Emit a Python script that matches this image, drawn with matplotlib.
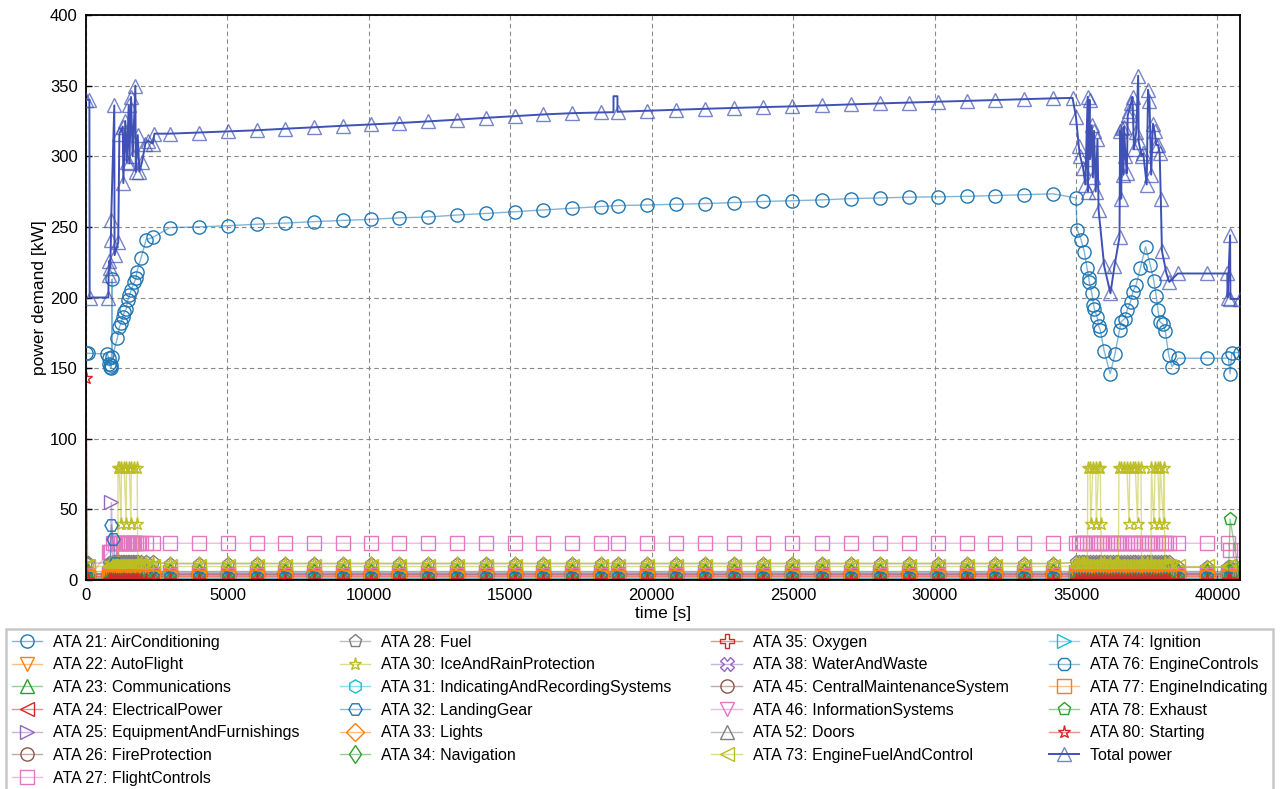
import matplotlib
matplotlib.use("Agg")
import matplotlib.pyplot as plt
from matplotlib.colors import to_rgba

plt.rcParams["font.family"] = ["Liberation Sans", "DejaVu Sans"]

# ── sample times per flight phase [s] ─────────────────────────────
ground_t = [0, 60, 800, 850, 900]
climb_t = [960, 1030, 1100, 1180, 1240, 1300, 1360, 1420, 1480, 1530, 1590,
           1650, 1710, 1770, 1830, 1950, 2120, 2360]
cruise_t = [2970, 3990, 5020, 6040, 7050, 8060, 9090, 10060, 11060, 12100,
            13130, 14140, 15160, 16170, 17200, 18200, 18820, 19830, 20860,
            21890, 22900, 23930, 24970, 26010, 27040, 28070, 29090, 30110,
            31140, 32150, 33170, 34180]
descent_t = [35000, 35100, 35200, 35300, 35400, 35500, 35600, 35700, 35800,
             35900, 36000, 36100, 36200, 36300, 36400, 36500, 36600, 36700,
             36800, 36900, 37000, 37100, 37200, 37300, 37400, 37500, 37600,
             37700, 37800, 37900, 38000, 38100, 38200, 38300]
approach_t = [38600, 39620, 40390, 40450, 40800]
phase_times = [ground_t, climb_t, cruise_t, descent_t, approach_t]

# ── total power [kW] ──────────────────────────────────────────────
total_t = [0, 120, 130, 790, 800, 830, 860, 880, 890, 1000, 1010, 1140, 1180,
           1300, 1320, 1390, 1440, 1510, 1534, 1593, 1650, 1746, 1760, 1829,
           1888, 1982, 2100, 2183, 2360, 2420,
           2970, 3990, 5020, 6040, 7050, 8060, 9090, 10060, 11060, 12100,
           13130, 14140, 15160, 16170, 17200, 18200, 18650, 18650, 18790,
           18790, 18820, 19830, 20860, 21890, 22900, 23930, 24970, 26010,
           27040, 28070, 29090, 30110, 31140, 32150, 33170, 34180, 34880,
           35000, 35100, 35150, 35250, 35330, 35415, 35420, 35480, 35500,
           35560, 35600, 35640, 35700, 35760, 35800, 36000, 36220, 36360,
           36540, 36560, 36600, 36620, 36680, 36700, 36750, 36800, 36830,
           36880, 36950, 37000, 37050, 37130, 37200, 37220, 37330, 37380,
           37500, 37550, 37600, 37660, 37720, 37780, 37840, 37900, 37960,
           38000, 38040, 38200, 38300,
           38600, 39620, 40350, 40360, 40450, 40460, 40800]
total_kw = [340, 340, 200, 200, 216, 226, 221, 241, 255, 336, 230, 239, 316,
            321, 281, 325, 296, 336, 295, 342, 300, 350, 289, 315,
            289, 296, 309, 311, 309, 316,
            316.0, 316.8, 317.6, 318.4, 319.5, 320.5, 321.6, 322.5, 323.5,
            324.7, 325.9, 327.2, 328.4, 329.6, 330.5, 331.0, 331.2, 342.5,
            342.5, 331.4, 331.5, 332.2, 332.9, 333.6, 334.2, 334.8, 335.3,
            336.0, 336.7, 337.4, 338.0, 338.6, 339.2, 339.8, 340.4, 341.0,
            341.3,
            328, 307, 300, 292, 280, 342, 275, 340, 298, 322, 285, 318, 275,
            312, 262, 222, 203, 222, 243, 318, 270, 320, 287, 321, 300, 288,
            329, 332, 338, 342, 305, 317, 357, 310, 300, 302, 280, 347, 339,
            287, 323, 318, 308, 308, 302, 270, 233, 217, 211,
            217, 217, 217, 200, 244, 199, 199]
# short pulse in cruise drawn as a line only
total_pulse = (18600, 18800)

# ── ATA 21 air conditioning [kW] ──────────────────────────────────
aircon_t = [0, 60, 760, 800, 830, 860, 880, 900, 920, 930, 1105, 1180, 1240,
            1300, 1360, 1420, 1475, 1534, 1593, 1711, 1770, 1794, 1947, 2124,
            2360] + cruise_t + [
            35000, 35040, 35180, 35300, 35390, 35450, 35470, 35560, 35620,
            35650, 35750, 35800, 35860, 36000, 36210, 36380, 36540, 36600,
            36720, 36810, 36930, 37010, 37130, 37280, 37460, 37630, 37750,
            37840, 37900, 37960, 38080, 38160, 38280, 38400,
            38610, 39620, 40390, 40450, 40510, 40800]
aircon_kw = [160.5, 160.5, 160, 157, 153, 151, 150, 152, 213, 158, 171, 179,
             182, 186, 190, 192, 198, 201.5, 205, 211, 214, 218, 228, 241,
             242.5,
             249.5, 250.0, 250.8, 251.9, 252.7, 253.7, 254.6, 255.3, 256.4,
             257.0, 258.4, 259.5, 260.7, 262.0, 263.2, 264.4, 265.1, 265.5,
             266.0, 266.5, 267.2, 268.0, 268.5, 269.1, 270.0, 270.5, 271.0,
             271.3, 271.6, 272.2, 272.8, 273.4,
             270.5, 248, 241, 232, 221, 214, 211, 203, 195, 192, 186, 180,
             177, 162, 146, 160, 177, 183, 185, 191, 197, 204, 209, 221, 236,
             223, 212, 201, 191, 183, 181, 176, 159, 151,
             157, 157, 157, 146, 161, 161]

# ── ATA 30 ice and rain protection [kW] ───────────────────────────
ice_t = ground_t + [960, 1030, 1130, 1130, 1170, 1240, 1250, 1350, 1420,
                    1430, 1530, 1590, 1600, 1700, 1810, 1820, 1830, 1950,
                    2120, 2360] + cruise_t + [
        35000, 35100, 35200, 35300, 35400, 35420, 35500, 35520, 35600, 35700,
        35720, 35800, 35860, 35880, 35900, 36000, 36200, 36400, 36500, 36520,
        36600, 36700, 36800, 36880, 36900, 37000, 37100, 37180, 37200, 37300,
        37320, 37500, 37650, 37670, 37750, 37800, 37900, 37950, 37980, 38100,
        38120, 38140, 38300] + approach_t
ice_kw = ([0.5, 0.5, 0.5, 12, 12]
          + [12, 12, 12, 79, 79, 40, 79, 79, 40, 79, 79, 40, 79, 79, 79, 40,
             12, 12, 12, 12]
          + [12] * 32
          + [12, 12, 12, 12, 12, 79, 79, 40, 79, 79, 40, 79, 79, 40, 12, 12,
             12, 12, 12, 79, 79, 79, 79, 40, 79, 79, 79, 40, 79, 79, 12, 12,
             12, 79, 40, 79, 79, 40, 79, 40, 79, 12, 12]
          + [9, 9, 9, 9, 9])

# ── remaining systems: level per phase (ground, climb, cruise, descent,
#    approach); a list gives the values point by point ────────────
systems = [
    ("ATA 21: AirConditioning", "#1f77b4", "o", None),
    ("ATA 22: AutoFlight", "#ff7f0e", "v", (0.5, 3.0, 3.0, 3.0, 3.0)),
    ("ATA 23: Communications", "#2ca02c", "^", (6.5, 6.5, 6.5, 6.5, 6.5)),
    ("ATA 24: ElectricalPower", "#d62728", "<", (2.0, 4.0, 4.0, 4.0, 4.0)),
    ("ATA 25: EquipmentAndFurnishings", "#9467bd", ">",
     ([4, 4, 4, 4, 55], 5.5, 5.5, 5.5, 5.5)),
    ("ATA 26: FireProtection", "#8c564b", "o", (0.3, 0.3, 0.3, 0.3, 0.3)),
    ("ATA 27: FlightControls", "#e377c2", "s",
     ([0.5, 0.5, 20, 20, 20], 26, 26, 26, [26, 26, 26, 21, 21])),
    ("ATA 28: Fuel", "#7f7f7f", "p", (12, 12.5, 11.5, 12.5, 9)),
    ("ATA 30: IceAndRainProtection", "#bcbd22", "*", None),
    ("ATA 31: IndicatingAndRecordingSystems", "#17becf", "h",
     (1.0, 1.0, 1.0, 1.0, 1.0)),
    ("ATA 32: LandingGear", "#1f77b4", "H",
     ([0, 0, 0, 0, 39], [29, 12] + [0] * 16, 0, 0, 0)),
    ("ATA 33: Lights", "#ff7f0e", "D", (4.5, 4.5, 4.0, 4.5, 4.5)),
    ("ATA 34: Navigation", "#2ca02c", "d", (5.0, 5.0, 5.0, 5.0, 5.0)),
    ("ATA 35: Oxygen", "#d62728", "P", (2.5, 2.5, 2.5, 2.5, 2.5)),
    ("ATA 38: WaterAndWaste", "#9467bd", "X", (4.0, 4.0, 4.0, 4.0, 4.0)),
    ("ATA 45: CentralMaintenanceSystem", "#8c564b", "o",
     (0.8, 0.8, 0.8, 0.8, 0.8)),
    ("ATA 46: InformationSystems", "#e377c2", "v", (3.5, 3.5, 3.5, 3.5, 3.5)),
    ("ATA 52: Doors", "#7f7f7f", "^", (0.3, 0.3, 0.3, 0.3, 0.3)),
    ("ATA 73: EngineFuelAndControl", "#bcbd22", "<",
     (10, 10, 10, 10, 10)),
    ("ATA 74: Ignition", "#17becf", ">", (0.5, 0.5, 0.5, 0.5, 0.5)),
    ("ATA 76: EngineControls", "#1f77b4", "8", (1.5, 1.5, 1.5, 1.5, 1.5)),
    ("ATA 77: EngineIndicating", "#ff7f0e", "s", (2.0, 2.0, 2.0, 2.0, 2.0)),
    ("ATA 78: Exhaust", "#2ca02c", "p", (0, 0, 0, 0, [0, 0, 0, 43, 0])),
    ("ATA 80: Starting", "#d62728", "*", ([143, 0, 0, 0, 0], 0, 0, 0, 0)),
]
TOTAL_COLOR = "#3f51b5"


def phase_values(levels):
    vals = []
    for lvl, ts in zip(levels, phase_times):
        vals += list(lvl) if isinstance(lvl, list) else [lvl] * len(ts)
    return vals


all_t = ground_t + climb_t + cruise_t + descent_t + approach_t

fig = plt.figure(figsize=(12.83, 7.89), dpi=100)
ax = fig.add_axes([86 / 1283, 1 - 580 / 789, 1154 / 1283, 565 / 789])


def draw(t, v, color, marker, label, lw=1.0, line_alpha=0.5, mk_alpha=1.0,
         z=2, markevery=None):
    (h,) = ax.plot(t, v, color=to_rgba(color, line_alpha), lw=lw,
                   marker=marker, markersize=9.5, markerfacecolor="none",
                   markeredgecolor=to_rgba(color, mk_alpha),
                   markeredgewidth=1.0, label=label, zorder=z,
                   markevery=markevery)
    return h


handles = []
for label, color, marker, levels in systems:
    if label.startswith("ATA 21"):
        h = draw(aircon_t, aircon_kw, color, marker, label, line_alpha=0.55,
                 z=4)
    elif label.startswith("ATA 30"):
        h = draw(ice_t, ice_kw, color, marker, label)
    else:
        h = draw(all_t, phase_values(levels), color, marker, label)
    handles.append(h)

total_marks = [i for i, t in enumerate(total_t)
               if not total_pulse[0] < t < total_pulse[1]]
handles.append(draw(total_t, total_kw, TOTAL_COLOR, "^", "Total power",
                    lw=1.4, line_alpha=1.0, mk_alpha=0.7, z=5,
                    markevery=total_marks))

ax.set_xlim(0, 40800)
ax.set_ylim(0, 400)
ax.set_xticks(range(0, 40001, 5000))
ax.set_yticks(range(0, 401, 50))
ax.tick_params(direction="in", length=4, width=1, labelsize=12, pad=6)
ax.grid(True, linestyle=(0, (4, 3)), color="#8a8a8a", linewidth=0.8)
for spine in ax.spines.values():
    spine.set_linewidth(1.3)
ax.set_xlabel("time [s]", fontsize=12.5, labelpad=2)
ax.set_ylabel("power demand [kW]", fontsize=12.5, labelpad=2)

leg = fig.legend(handles=handles, ncol=4, loc="upper left",
                 bbox_to_anchor=(6 / 1283, 1 - 629 / 789), fontsize=11.5,
                 numpoints=1, handlelength=1.9, handletextpad=0.7,
                 columnspacing=2.5, labelspacing=0.48, borderpad=0.35,
                 borderaxespad=0, fancybox=False, framealpha=1)
leg.get_frame().set_edgecolor("#c8c8c8")
leg.get_frame().set_linewidth(1.8)

fig.savefig("out.png", dpi=100)
